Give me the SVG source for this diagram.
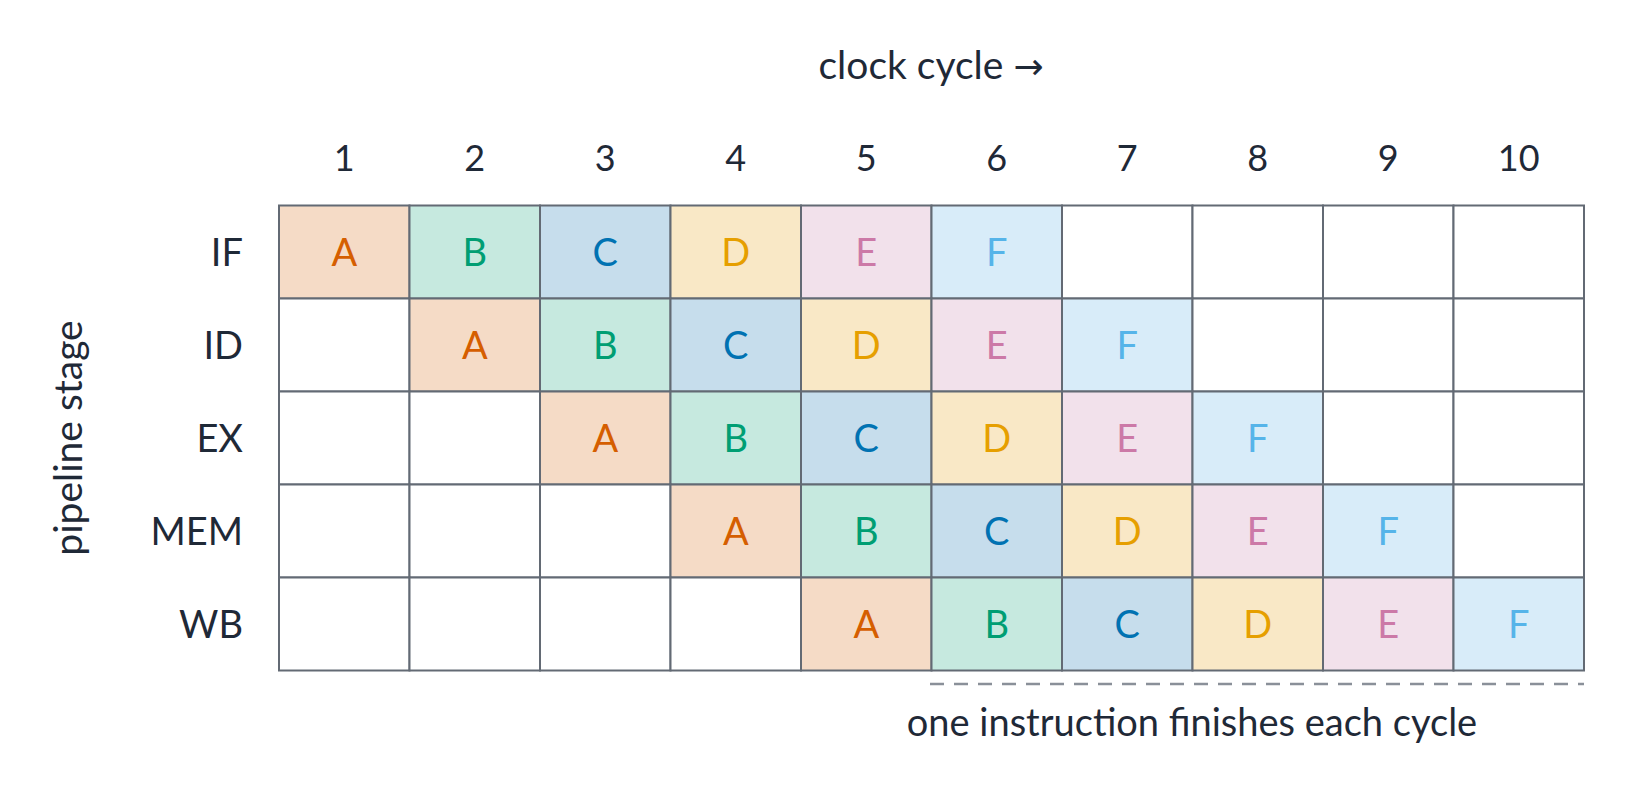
<svg xmlns="http://www.w3.org/2000/svg" width="1625" height="798" viewBox="0 0 1625 798">
<style>
text{font-family:Lato,"Open Sans","DejaVu Sans",sans-serif;fill:#1f2937}
.t{font-size:39px}
.n{font-size:36px;text-anchor:middle}
.r{font-size:38px;text-anchor:end}
.c{font-size:38px;text-anchor:middle}
.g{stroke:#636a74;stroke-width:2}
.e{fill:#ffffff}
.fa{fill:#f5dbc6}.fb{fill:#c6e9df}.fc{fill:#c6ddec}.fd{fill:#f9e8c6}.fe{fill:#f2e1eb}.ff{fill:#d8ecf9}
.la{fill:#d55e00}.lb{fill:#009e73}.lc{fill:#0072b2}.ld{fill:#e69f00}.le{fill:#cc79a7}.lf{fill:#56b4e9}
</style>
<rect width="1625" height="798" fill="#ffffff"/>
<text class="t" text-anchor="middle" x="931" y="79">clock cycle <tspan font-family="DejaVu Sans,sans-serif" font-size="36">→</tspan></text>
<text class="t" text-anchor="middle" transform="translate(82,438) rotate(-90)">pipeline stage</text>
<g id="cols">
<text class="n" x="344.25" y="171">1</text><text class="n" x="474.75" y="171">2</text><text class="n" x="605.25" y="171">3</text><text class="n" x="735.75" y="171">4</text><text class="n" x="866.25" y="171">5</text><text class="n" x="996.75" y="171">6</text><text class="n" x="1127.25" y="171">7</text><text class="n" x="1257.75" y="171">8</text><text class="n" x="1388.25" y="171">9</text><text class="n" x="1518.75" y="171">10</text>
</g>
<g id="rows">
<text class="r" x="243" y="266">IF</text><text class="r" x="243" y="359">ID</text><text class="r" x="243" y="452">EX</text><text class="r" x="243" y="545">MEM</text><text class="r" x="243" y="638">WB</text>
</g>
<g id="row-IF" class="g">
<rect class="fa" x="279" y="205.5" width="130.5" height="93"/><rect class="fb" x="409.5" y="205.5" width="130.5" height="93"/><rect class="fc" x="540" y="205.5" width="130.5" height="93"/><rect class="fd" x="670.5" y="205.5" width="130.5" height="93"/><rect class="fe" x="801" y="205.5" width="130.5" height="93"/><rect class="ff" x="931.5" y="205.5" width="130.5" height="93"/><rect class="e" x="1062" y="205.5" width="130.5" height="93"/><rect class="e" x="1192.5" y="205.5" width="130.5" height="93"/><rect class="e" x="1323" y="205.5" width="130.5" height="93"/><rect class="e" x="1453.5" y="205.5" width="130.5" height="93"/>
</g>
<g id="row-ID" class="g">
<rect class="e" x="279" y="298.5" width="130.5" height="93"/><rect class="fa" x="409.5" y="298.5" width="130.5" height="93"/><rect class="fb" x="540" y="298.5" width="130.5" height="93"/><rect class="fc" x="670.5" y="298.5" width="130.5" height="93"/><rect class="fd" x="801" y="298.5" width="130.5" height="93"/><rect class="fe" x="931.5" y="298.5" width="130.5" height="93"/><rect class="ff" x="1062" y="298.5" width="130.5" height="93"/><rect class="e" x="1192.5" y="298.5" width="130.5" height="93"/><rect class="e" x="1323" y="298.5" width="130.5" height="93"/><rect class="e" x="1453.5" y="298.5" width="130.5" height="93"/>
</g>
<g id="row-EX" class="g">
<rect class="e" x="279" y="391.5" width="130.5" height="93"/><rect class="e" x="409.5" y="391.5" width="130.5" height="93"/><rect class="fa" x="540" y="391.5" width="130.5" height="93"/><rect class="fb" x="670.5" y="391.5" width="130.5" height="93"/><rect class="fc" x="801" y="391.5" width="130.5" height="93"/><rect class="fd" x="931.5" y="391.5" width="130.5" height="93"/><rect class="fe" x="1062" y="391.5" width="130.5" height="93"/><rect class="ff" x="1192.5" y="391.5" width="130.5" height="93"/><rect class="e" x="1323" y="391.5" width="130.5" height="93"/><rect class="e" x="1453.5" y="391.5" width="130.5" height="93"/>
</g>
<g id="row-MEM" class="g">
<rect class="e" x="279" y="484.5" width="130.5" height="93"/><rect class="e" x="409.5" y="484.5" width="130.5" height="93"/><rect class="e" x="540" y="484.5" width="130.5" height="93"/><rect class="fa" x="670.5" y="484.5" width="130.5" height="93"/><rect class="fb" x="801" y="484.5" width="130.5" height="93"/><rect class="fc" x="931.5" y="484.5" width="130.5" height="93"/><rect class="fd" x="1062" y="484.5" width="130.5" height="93"/><rect class="fe" x="1192.5" y="484.5" width="130.5" height="93"/><rect class="ff" x="1323" y="484.5" width="130.5" height="93"/><rect class="e" x="1453.5" y="484.5" width="130.5" height="93"/>
</g>
<g id="row-WB" class="g">
<rect class="e" x="279" y="577.5" width="130.5" height="93"/><rect class="e" x="409.5" y="577.5" width="130.5" height="93"/><rect class="e" x="540" y="577.5" width="130.5" height="93"/><rect class="e" x="670.5" y="577.5" width="130.5" height="93"/><rect class="fa" x="801" y="577.5" width="130.5" height="93"/><rect class="fb" x="931.5" y="577.5" width="130.5" height="93"/><rect class="fc" x="1062" y="577.5" width="130.5" height="93"/><rect class="fd" x="1192.5" y="577.5" width="130.5" height="93"/><rect class="fe" x="1323" y="577.5" width="130.5" height="93"/><rect class="ff" x="1453.5" y="577.5" width="130.5" height="93"/>
</g>
<g id="letters">
<text class="c la" x="344.25" y="266">A</text><text class="c lb" x="474.75" y="266">B</text><text class="c lc" x="605.25" y="266">C</text><text class="c ld" x="735.75" y="266">D</text><text class="c le" x="866.25" y="266">E</text><text class="c lf" x="996.75" y="266">F</text>
<text class="c la" x="474.75" y="359">A</text><text class="c lb" x="605.25" y="359">B</text><text class="c lc" x="735.75" y="359">C</text><text class="c ld" x="866.25" y="359">D</text><text class="c le" x="996.75" y="359">E</text><text class="c lf" x="1127.25" y="359">F</text>
<text class="c la" x="605.25" y="452">A</text><text class="c lb" x="735.75" y="452">B</text><text class="c lc" x="866.25" y="452">C</text><text class="c ld" x="996.75" y="452">D</text><text class="c le" x="1127.25" y="452">E</text><text class="c lf" x="1257.75" y="452">F</text>
<text class="c la" x="735.75" y="545">A</text><text class="c lb" x="866.25" y="545">B</text><text class="c lc" x="996.75" y="545">C</text><text class="c ld" x="1127.25" y="545">D</text><text class="c le" x="1257.75" y="545">E</text><text class="c lf" x="1388.25" y="545">F</text>
<text class="c la" x="866.25" y="638">A</text><text class="c lb" x="996.75" y="638">B</text><text class="c lc" x="1127.25" y="638">C</text><text class="c ld" x="1257.75" y="638">D</text><text class="c le" x="1388.25" y="638">E</text><text class="c lf" x="1518.75" y="638">F</text>
</g>
<g id="connectors">
<line x1="930" y1="684" x2="1584" y2="684" stroke="#8a9099" stroke-width="2.5" stroke-dasharray="14 10"/>
</g>
<text class="c" x="1192" y="736">one instruction finishes each cycle</text>
</svg>
